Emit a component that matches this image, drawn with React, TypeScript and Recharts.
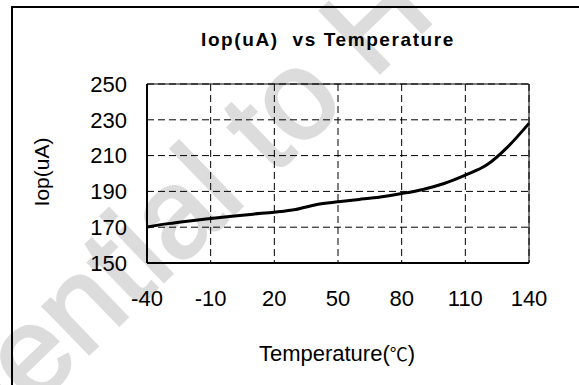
import { LineChart, Line, XAxis, YAxis, CartesianGrid, ReferenceLine } from 'recharts';

// Iop vs temperature
const temperatures = [-40, -30, -20, -10, 0, 10, 20, 30, 40, 50, 60, 70, 80, 90, 100, 110, 120, 130, 140];
const iopValues = [170.1, 172.0, 173.5, 174.8, 176.1, 177.3, 178.4, 179.9, 182.7, 184.2, 185.5, 186.9, 188.8, 191.1, 194.4, 199.1, 204.7, 214.9, 228.0];

const xTicks = [-40, -10, 20, 50, 80, 110, 140];
const yTicks = [150, 170, 190, 210, 230, 250];

const data = temperatures.map((t, i) => ({ t, iop: iopValues[i] }));

const FONT = '"Liberation Sans", Arial, sans-serif';

export default function App() {
  return (
    <div style={{ position: 'absolute', left: 0, top: 0, width: 579, height: 385, background: '#fff', overflow: 'hidden' }}>
      {/* watermark + frame + titles behind the chart */}
      <svg width={579} height={385} style={{ position: 'absolute', left: 0, top: 0 }}>
        <text
          x={-227}
          y={659}
          transform="rotate(-44 -227 659)"
          fontFamily={FONT}
          fontSize={125}
          fill="#dcdcdc"
          stroke="#dcdcdc"
          strokeWidth={3}
        >
          Confidential to H
        </text>
        <line x1={12} y1={7} x2={12} y2={385} stroke="#000" strokeWidth={2} />
        <line x1={11} y1={7} x2={579} y2={7} stroke="#000" strokeWidth={2} />
        <text
          x={328}
          y={46}
          textAnchor="middle"
          fontFamily={FONT}
          fontWeight="bold"
          fontSize={19}
          letterSpacing={1.6}
          fill="#000"
          style={{ whiteSpace: 'pre' }}
        >
          {'Iop(uA)  vs Temperature'}
        </text>
        <text x={337} y={361} textAnchor="middle" fontFamily={FONT} fontSize={22} fill="#000">
          Temperature(<tspan fontFamily='"Noto Sans CJK SC"' fontSize={18}>℃</tspan>)
        </text>
        <text x={49} y={172} transform="rotate(-90 49 172)" textAnchor="middle" fontFamily={FONT} fontSize={21} fill="#000">
          Iop(uA)
        </text>
      </svg>
      <div style={{ position: 'absolute', left: 0, top: 0 }}>
        <LineChart width={579} height={385} data={data} margin={{ top: 84, right: 50, bottom: 82, left: 87 }}>
          <CartesianGrid stroke="#000" strokeDasharray="7 4" />
          <XAxis
            dataKey="t"
            type="number"
            domain={[-40, 140]}
            ticks={xTicks}
            height={40}
            tickSize={0}
            tickMargin={27}
            axisLine={{ stroke: '#000', strokeWidth: 2 }}
            tickLine={false}
            tick={{ fontSize: 22, fill: '#000', fontFamily: FONT }}
          />
          <YAxis
            type="number"
            domain={[150, 250]}
            ticks={yTicks}
            width={60}
            tickSize={0}
            tickMargin={20}
            axisLine={{ stroke: '#000', strokeWidth: 2 }}
            tickLine={false}
            tick={{ fontSize: 22, fill: '#000', fontFamily: FONT }}
          />
          <ReferenceLine y={250} stroke="#000" strokeWidth={1} />
          <ReferenceLine x={140} stroke="#000" strokeWidth={1} />
          <Line
            type="monotone"
            dataKey="iop"
            stroke="#000"
            strokeWidth={3}
            dot={false}
            isAnimationActive={false}
          />
        </LineChart>
      </div>
    </div>
  );
}
